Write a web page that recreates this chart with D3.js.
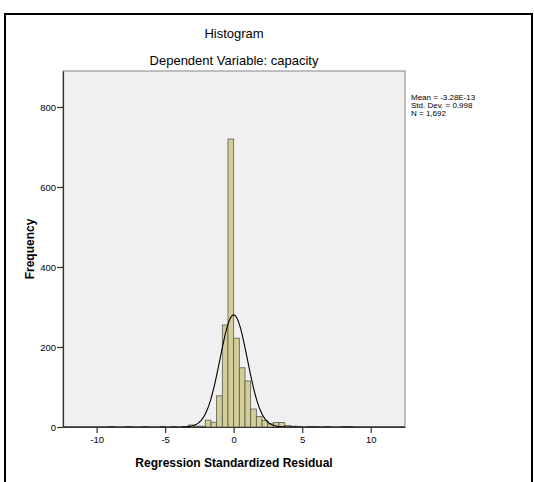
<html>
  <head>
    <meta charset="utf-8">
    <script src="https://d3js.org/d3.v7.min.js"></script>
    <style>
      body { margin: 0; background: #fff; }
      text { font-family: "Liberation Sans", Arial, sans-serif; }
    </style>
  </head>
  <body>
    <svg class="chart"></svg>
  </body>
  <script>
  // histogram bins (left edge, in residual units) and counts
  const binWidth = 0.414;
  const binStart = [-9.108, -7.866, -6.624, -5.382, -4.554, -3.726, -3.312, -2.898, -2.484, -2.070,
                    -1.656, -1.242, -0.828, -0.414, 0, 0.414, 0.828, 1.242, 1.656, 2.070,
                    2.484, 2.898, 3.312, 3.726, 4.140, 4.554, 5.382, 5.796, 6.624, 7.866, 8.280];
  const binCount = [1, 1, 1, 1, 1, 1, 5, 2, 2, 17,
                    12, 78, 255, 720, 222, 148, 115, 45, 26, 16,
                    8, 11, 11, 4, 2, 1, 1, 1, 1, 1, 1];
  const xTicks = [-10, -5, 0, 5, 10];
  const yTicks = [0, 200, 400, 600, 800];
  const statLines = ['Mean = -3.28E-13', 'Std. Dev. = 0.998', 'N = 1,692'];
  const mean = 0, sd = 0.998, n = 1692;

  function drawHistogram(){
    let width = 534, height = 482;
    let plot = {left: 63, right: 405, top: 71, bottom: 427};

    let svg = d3.select('.chart')
      .attr('width', width)
      .attr('height', height)
      .attr('viewBox', [0, 0, width, height]);

    // outer frame
    svg.append('rect')
      .attr('x', 5).attr('y', 14)
      .attr('width', 527).attr('height', 490)
      .attr('fill', 'none').attr('stroke', '#000').attr('stroke-width', 2);

    let x = d3.scaleLinear().domain([-12.45, 12.5]).range([plot.left, plot.right]);
    let y = d3.scaleLinear().domain([0, 890]).range([plot.bottom, plot.top]);

    svg.append('rect')
      .attr('x', plot.left).attr('y', plot.top)
      .attr('width', plot.right - plot.left).attr('height', plot.bottom - plot.top)
      .attr('fill', '#f0f0f0').attr('stroke', '#858585').attr('stroke-width', 1);

    svg.append('g')
      .selectAll('rect')
      .data(binStart.map((s, i) => ({x0: s, x1: s + binWidth, n: binCount[i]})))
      .join('rect')
        .attr('x', d => x(d.x0))
        .attr('y', d => y(d.n))
        .attr('width', d => x(d.x1) - x(d.x0))
        .attr('height', d => y(0) - y(d.n))
        .attr('fill', '#d3ce97')
        .attr('stroke', '#5a5a50')
        .attr('stroke-width', 0.8);

    // normal curve
    let pts = d3.range(-12.45, 12.5, 0.02).map(v => [v, n * binWidth * Math.exp(-0.5 * ((v - mean) / sd) ** 2) / (sd * Math.sqrt(2 * Math.PI))]);
    svg.append('path')
      .datum(pts)
      .attr('fill', 'none')
      .attr('stroke', '#000')
      .attr('stroke-width', 1.1)
      .attr('d', d3.line().x(d => x(d[0])).y(d => y(d[1])));

    // axes
    let xAxis = svg.append('g')
      .attr('transform', `translate(0,${plot.bottom})`)
      .call(d3.axisBottom(x).tickValues(xTicks).tickSize(6).tickPadding(3).tickSizeOuter(0).tickFormat(d => String(d)));
    let yAxis = svg.append('g')
      .attr('transform', `translate(${plot.left},0)`)
      .call(d3.axisLeft(y).tickValues(yTicks).tickSize(6).tickPadding(1).tickSizeOuter(0));
    [xAxis, yAxis].forEach(g => {
      g.select('.domain').attr('stroke', '#333').attr('stroke-width', 1.2);
      g.selectAll('.tick line').attr('stroke', '#333').attr('stroke-width', 1.2);
      g.selectAll('.tick text').attr('fill', '#000').style('font-size', '9.5px').style('font-family', '"Liberation Sans", Arial, sans-serif');
    });

    svg.append('text').attr('x', 234).attr('y', 38).attr('text-anchor', 'middle')
      .style('font-size', '13px').text('Histogram');
    svg.append('text').attr('x', 234).attr('y', 65).attr('text-anchor', 'middle')
      .style('font-size', '13px').text('Dependent Variable: capacity');
    svg.append('text').attr('x', 234).attr('y', 467).attr('text-anchor', 'middle')
      .style('font-size', '12px').style('font-weight', 'bold').text('Regression Standardized Residual');
    svg.append('text').attr('transform', 'translate(34,249) rotate(-90)').attr('text-anchor', 'middle')
      .style('font-size', '12px').style('font-weight', 'bold').text('Frequency');

    svg.append('g').selectAll('text')
      .data(statLines)
      .join('text')
        .attr('x', 411)
        .attr('y', (d, i) => 100 + i * 8)
        .style('font-size', '8px')
        .text(d => d);
  }

  drawHistogram();
  </script>
</html>
